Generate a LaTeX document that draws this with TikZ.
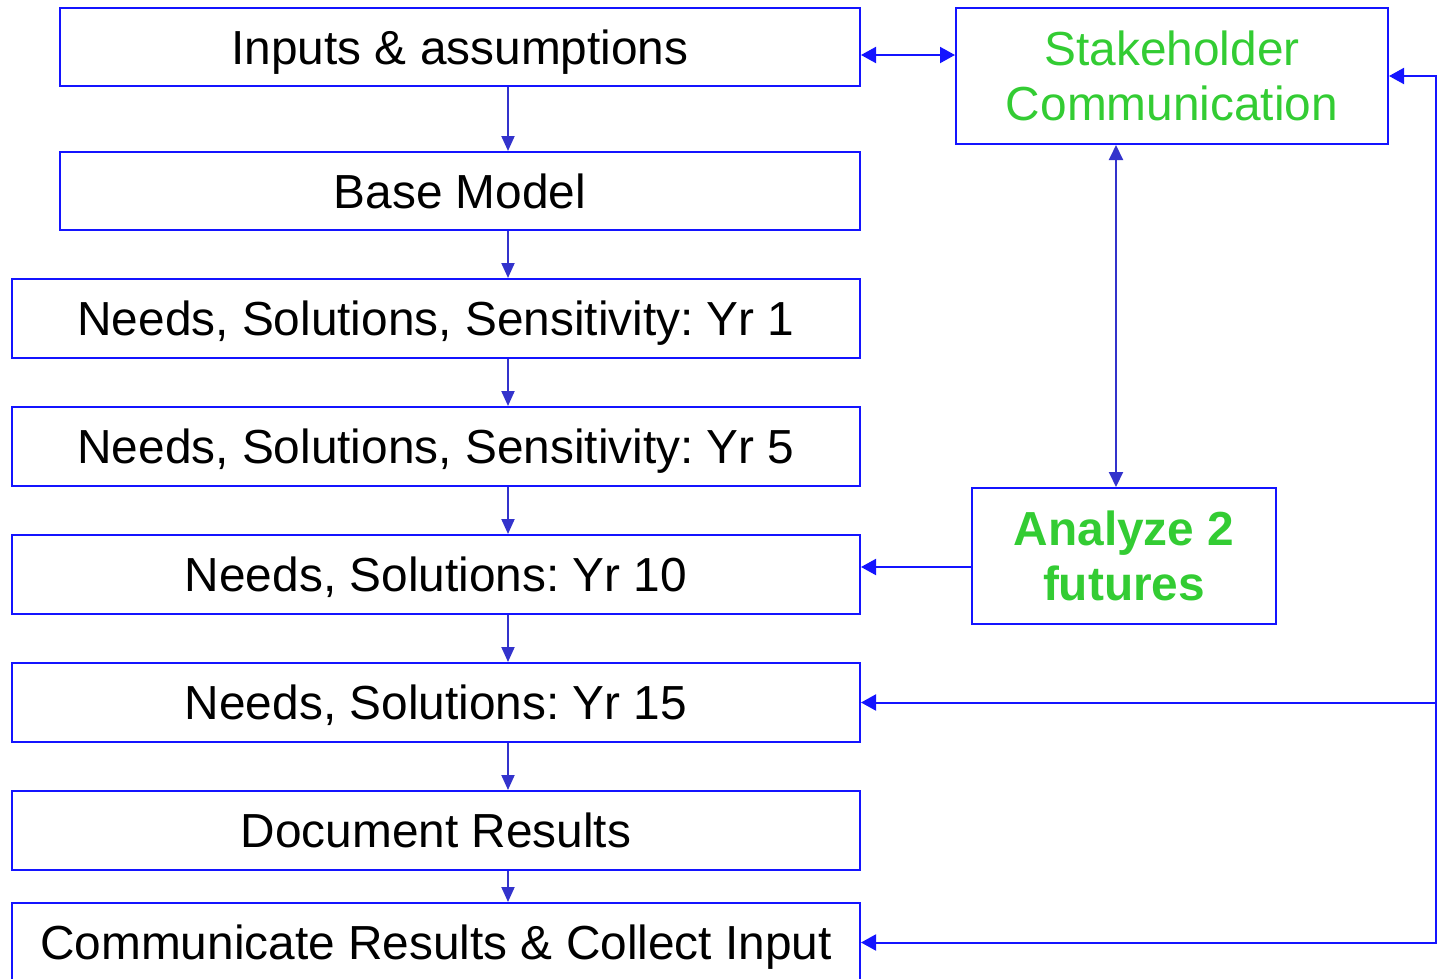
\documentclass[tikz,border=0pt]{standalone}
\usepackage{fontspec}
\setmainfont{Liberation Sans}
\usetikzlibrary{arrows.meta}
\frenchspacing
\definecolor{bbox}{RGB}{20,20,255}
\definecolor{barr}{RGB}{51,51,204}
\definecolor{gtext}{RGB}{51,204,51}
\tikzset{
  box/.style={draw=bbox, line width=2pt, inner sep=0pt, align=center,
    font=\fontsize{47.8}{55.5}\selectfont},
  onebox/.style={box, text height=34pt, text depth=0pt},
  arr/.style={draw=barr, line width=2pt, -{Triangle[length=15pt,width=13pt]}},
  harr/.style={draw=bbox, line width=2pt, -{Triangle[length=15pt,width=16pt]}},
  dblarr/.style={draw=bbox, line width=2pt, {Triangle[length=15pt,width=16pt]}-{Triangle[length=15pt,width=16pt]}},
  vdbl/.style={draw=barr, line width=2pt, {Triangle[length=15pt,width=14pt]}-{Triangle[length=15pt,width=14pt]}},
}
\begin{document}
\begin{tikzpicture}[x=1pt,y=-1pt]
\useasboundingbox (0,0) rectangle (1441,978);
\clip (0,0) rectangle (1441,978);
\node[onebox, minimum width=800, minimum height=78] (inputs) at (460,47) {Inputs \& assumptions};
\node[onebox, minimum width=800, minimum height=78] (base) at (460,191) {Base Model};
\node[onebox, minimum width=848, minimum height=79] (yr1) at (436,318.5) {Needs, Solutions, Sensitivity: Yr 1};
\node[onebox, minimum width=848, minimum height=79] (yr5) at (436,446.5) {Needs, Solutions, Sensitivity: Yr 5};
\node[onebox, minimum width=848, minimum height=79] (yr10) at (436,574.5) {Needs, Solutions: Yr 10};
\node[onebox, minimum width=848, minimum height=79] (yr15) at (436,702.5) {Needs, Solutions: Yr 15};
\node[onebox, minimum width=848, minimum height=79] (doc) at (436,830.5) {Document Results};
\node[onebox, minimum width=848, minimum height=79] (comm) at (436,942.5) {Communicate Results \& Collect Input};
\node[box, text=gtext, minimum width=432, minimum height=136] (stake) at (1172,76) {Stakeholder\\Communication};
\node[box, text=gtext, minimum width=304, minimum height=136, font=\fontsize{47.8}{55.5}\selectfont\bfseries] (analyze) at (1124,556) {Analyze 2\\futures};

\coordinate (cx) at (508,0);
\coordinate (sx) at (1116,0);
\coordinate (loopx) at (1436,0);
\coordinate (hy) at (0,55);
\coordinate (ay) at (0,567);

\draw[arr] (inputs.south -| cx) -- (base.north -| cx);
\draw[arr] (base.south -| cx) -- (yr1.north -| cx);
\draw[arr] (yr1.south -| cx) -- (yr5.north -| cx);
\draw[arr] (yr5.south -| cx) -- (yr10.north -| cx);
\draw[arr] (yr10.south -| cx) -- (yr15.north -| cx);
\draw[arr] (yr15.south -| cx) -- (doc.north -| cx);
\draw[arr] (doc.south -| cx) -- (comm.north -| cx);

\draw[dblarr] (inputs.east |- hy) -- (stake.west |- hy);
\draw[vdbl] (stake.south -| sx) -- (analyze.north -| sx);
\draw[harr] (analyze.west |- ay) -- (yr10.east |- ay);
\draw[dblarr] (comm.east) -| (loopx |- stake.east) -- (stake.east);
\draw[harr] (loopx |- yr15.east) -- (yr15.east);
\end{tikzpicture}
\end{document}
